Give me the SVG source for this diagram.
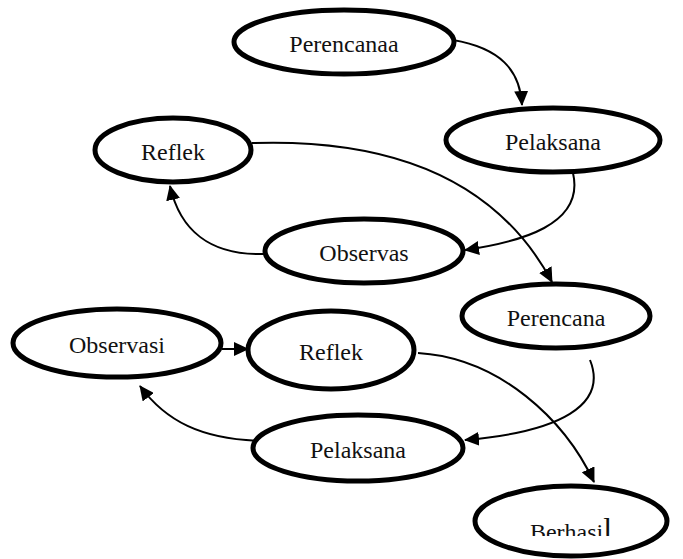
<svg xmlns="http://www.w3.org/2000/svg" width="683" height="559" viewBox="0 0 683 559">
<style>
.n ellipse{fill:#fff;stroke:#000;stroke-width:5}
.n text{font-family:"Liberation Serif","Times New Roman",serif;font-size:24px;fill:#111;text-anchor:middle}
.c path{fill:none;stroke:#000;stroke-width:2}
</style>
<defs>
<marker id="ah" markerUnits="userSpaceOnUse" markerWidth="16" markerHeight="14" refX="14" refY="7" orient="auto">
<path d="M0,0 L15,7 L0,14 Z" fill="#000"/>
</marker>
<clipPath id="bc"><rect x="470" y="480" width="200" height="56"/></clipPath>
</defs>
<g class="c">
<path d="M453,40 C500,48 520,70 522,105" marker-end="url(#ah)"/>
<path d="M573,173 C585,225 520,242 465,250" marker-end="url(#ah)"/>
<path d="M265,254 C210,256 180,230 170,186" marker-end="url(#ah)"/>
<path d="M252,143 C400,138 500,185 552,282" marker-end="url(#ah)"/>
<path d="M222,349 L248,349" marker-end="url(#ah)"/>
<path d="M590,360 C608,405 560,432 465,440" marker-end="url(#ah)"/>
<path d="M418,353 C500,358 565,420 594,482" marker-end="url(#ah)"/>
<path d="M265,441 C200,440 165,420 140,386" marker-end="url(#ah)"/>
</g>
<g id="perencanaa" class="n"><ellipse cx="344" cy="42" rx="110" ry="32"/><text x="344" y="52">Perencanaa</text></g>
<g id="pelaksana1" class="n"><ellipse cx="553" cy="140" rx="107" ry="32"/><text x="553" y="150">Pelaksana</text></g>
<g id="reflek1" class="n"><ellipse cx="173" cy="150" rx="78" ry="32"/><text x="173" y="160">Reflek</text></g>
<g id="observas" class="n"><ellipse cx="364" cy="251" rx="99" ry="32"/><text x="364" y="261">Observas</text></g>
<g id="perencana" class="n"><ellipse cx="556" cy="316" rx="94" ry="32"/><text x="556" y="326">Perencana</text></g>
<g id="observasi" class="n"><ellipse cx="117" cy="343" rx="104" ry="34"/><text x="117" y="353">Observasi</text></g>
<g id="reflek2" class="n"><ellipse cx="331" cy="350" rx="83" ry="39"/><text x="331" y="360">Reflek</text></g>
<g id="pelaksana2" class="n"><ellipse cx="358" cy="448" rx="105" ry="33"/><text x="358" y="458">Pelaksana</text></g>
<g id="berhasil" class="n"><ellipse cx="571" cy="521" rx="96" ry="35"/><text x="571" y="540" clip-path="url(#bc)">Berhasi<tspan style="font-size:32px">l</tspan></text></g>
</svg>
